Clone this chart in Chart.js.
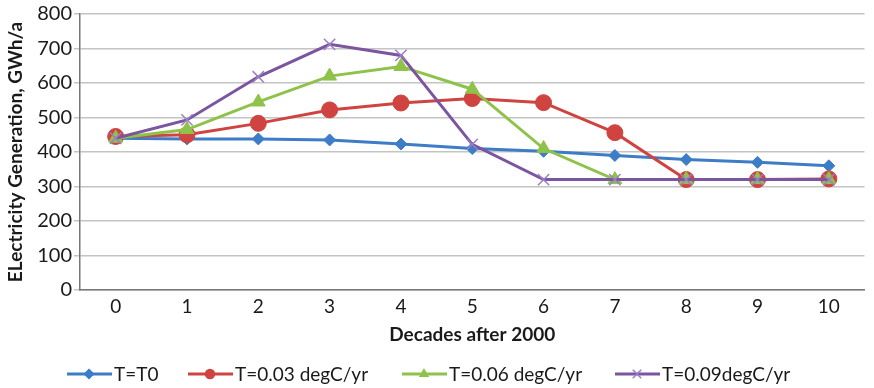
<!DOCTYPE html>
<html>
<head>
<meta charset="utf-8">
<script src="https://cdn.jsdelivr.net/npm/chart.js@4.4.0/dist/chart.umd.min.js"></script>
<style>
  html, body { margin: 0; padding: 0; background: #fff; }
  #wrap { width: 874px; height: 388px; }
</style>
</head>
<body>
<div id="wrap"><canvas id="genChart" width="874" height="388"></canvas></div>
<script>
const decades = ['0', '1', '2', '3', '4', '5', '6', '7', '8', '9', '10'];
const seriesNames = ['T=T0', 'T=0.03 degC/yr', 'T=0.06 degC/yr', 'T=0.09degC/yr'];
const tBase = [440, 438, 438, 435, 423, 410, 402, 390, 378, 370, 360];
const t003 = [445, 450, 483, 522, 542, 555, 543, 456, 320, 320, 322];
const t006 = [440, 465, 545, 620, 648, 582, 410, 320, 320, 320, 320];
const t009 = [440, 493, 618, 712, 680, 422, 320, 320, 320, 320, 320];
const yTicks = [0, 100, 200, 300, 400, 500, 600, 700, 800];

const colors = ['#3d7cc6', '#cf4440', '#8fc24a', '#7b55a0'];
const markers = ['rectRot', 'circle', 'triangle', 'crossRot'];
const radii = [6, 8, 8, 8];

const FONT = "Lato, 'Open Sans', sans-serif";

function makeSet(i, data, order) {
    return {
        label: seriesNames[i],
        data: data,
        borderColor: colors[i],
        backgroundColor: colors[i],
        borderWidth: 3,
        pointStyle: markers[i],
        pointRadius: radii[i],
        pointBorderWidth: i === 3 ? 1.5 : 1,
        pointBorderColor: i === 3 ? '#9b7fc4' : colors[i],
        pointBackgroundColor: colors[i],
        tension: 0,
        order: order
    };
}

// legend drawn by hand so each entry shows line + marker like the original
const lineLegend = {
    id: 'lineLegend',
    afterDraw(chart) {
        const c = chart.ctx;
        const xs = [67, 188, 402, 615];
        const y = 374;
        c.save();
        c.font = '19px ' + FONT;
        c.textBaseline = 'middle';
        seriesNames.forEach((name, i) => {
            const x = xs[i];
            c.strokeStyle = colors[i];
            c.lineWidth = 3;
            c.beginPath();
            c.moveTo(x, y);
            c.lineTo(x + 45, y);
            c.stroke();
            c.fillStyle = colors[i];
            c.strokeStyle = i === 3 ? '#9b7fc4' : colors[i];
            c.lineWidth = 1.5;
            Chart.helpers.drawPoint(c, {
                pointStyle: markers[i],
                radius: i === 3 ? 6 : 4.5,
                borderWidth: 1.5,
                rotation: 0
            }, x + 22, y);
            c.fillStyle = '#1a1a1a';
            c.fillText(name, x + 47, y + 1);
        });
        c.restore();
    }
};

const ctx = document.getElementById('genChart').getContext('2d');
const genChart = new Chart(ctx, {
    type: 'line',
    data: {
        labels: decades,
        datasets: [
            makeSet(0, tBase, 4),
            makeSet(1, t003, 3),
            makeSet(2, t006, 2),
            makeSet(3, t009, 1)
        ]
    },
    options: {
        responsive: false,
        animation: false,
        layout: { padding: { top: 14, right: 1, bottom: 38, left: 0 } },
        plugins: {
            legend: { display: false },
            tooltip: { enabled: false }
        },
        scales: {
            x: {
                offset: true,
                grid: { display: false, drawTicks: false },
                border: { color: '#777', width: 1.5 },
                ticks: { color: '#1a1a1a', font: { family: FONT, size: 19 }, padding: 5 },
                title: {
                    display: true,
                    text: 'Decades after 2000',
                    color: '#1a1a1a',
                    font: { family: FONT, size: 19, weight: 'bold' },
                    padding: { top: 2, bottom: 4 }
                },
                afterFit(axis) { axis.height = 60; }
            },
            y: {
                min: 0,
                max: 800,
                afterBuildTicks(axis) { axis.ticks = yTicks.map(v => ({ value: v })); },
                grid: { color: '#c4c4c4', lineWidth: 1.5, tickLength: 6 },
                border: { color: '#777', width: 1.5 },
                ticks: { color: '#1a1a1a', font: { family: FONT, size: 20 }, padding: 2 },
                title: {
                    display: true,
                    text: 'ELectricity Generation, GWh/a',
                    color: '#1a1a1a',
                    font: { family: FONT, size: 19, weight: 'bold' },
                    padding: { top: 4, bottom: 2 }
                },
                afterFit(axis) { axis.width = 80; }
            }
        }
    },
    plugins: [lineLegend]
});
</script>
</body>
</html>
